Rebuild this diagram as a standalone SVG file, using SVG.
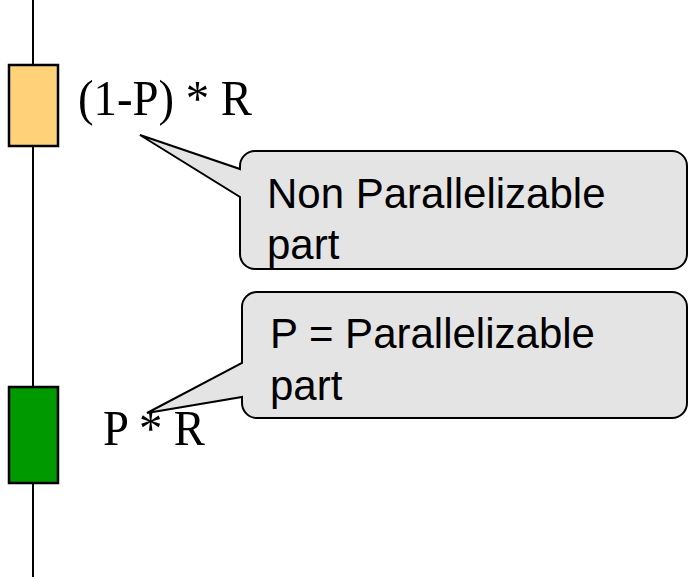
<svg xmlns="http://www.w3.org/2000/svg" width="688" height="577" viewBox="0 0 688 577">
  <style>
    .bar { stroke: #000; stroke-width: 2.5; }
    .axis { stroke: #000; stroke-width: 2; fill: none; }
    .formula { font-family: "Liberation Serif", "Times New Roman", serif; font-size: 51px; fill: #000; }
    .callout { fill: #E4E4E4; stroke: #000; stroke-width: 2; stroke-linejoin: miter; }
    .note { font-family: "Liberation Sans", Arial, sans-serif; font-size: 42px; fill: #000; }
  </style>

  <!-- timeline -->
  <g id="connectors">
    <line class="axis" x1="33" y1="0" x2="33" y2="577"/>
  </g>

  <!-- serial portion of the run -->
  <g id="serial-part">
    <rect class="bar" x="9" y="65" width="49" height="81" fill="#FFD27A"/>
    <text class="formula" x="78" y="115" textLength="174" lengthAdjust="spacingAndGlyphs">(1-P) * R</text>
  </g>

  <!-- parallel portion of the run -->
  <g id="parallel-part">
    <rect class="bar" x="9" y="387" width="49" height="96" fill="#009900"/>
    <text class="formula" x="103" y="445" textLength="102" lengthAdjust="spacingAndGlyphs">P * R</text>
  </g>

  <!-- callout for the serial portion -->
  <g id="note-serial">
    <path class="callout" d="M255,151 H672 A15,15 0 0 1 687,166 V254 A15,15 0 0 1 672,269 H255 A15,15 0 0 1 240,254 V197 L140,135 L240,169 V166 A15,15 0 0 1 255,151 Z"/>
    <text class="note" x="267" y="208">Non Parallelizable</text>
    <text class="note" x="267" y="259">part</text>
  </g>

  <!-- callout for the parallel portion -->
  <g id="note-parallel">
    <path class="callout" d="M257,292 H672 A15,15 0 0 1 687,307 V403 A15,15 0 0 1 672,418 H257 A15,15 0 0 1 242,403 V397 L147,413 L242,363 V307 A15,15 0 0 1 257,292 Z"/>
    <text class="note" x="270" y="348">P = Parallelizable</text>
    <text class="note" x="270" y="400">part</text>
  </g>
</svg>
